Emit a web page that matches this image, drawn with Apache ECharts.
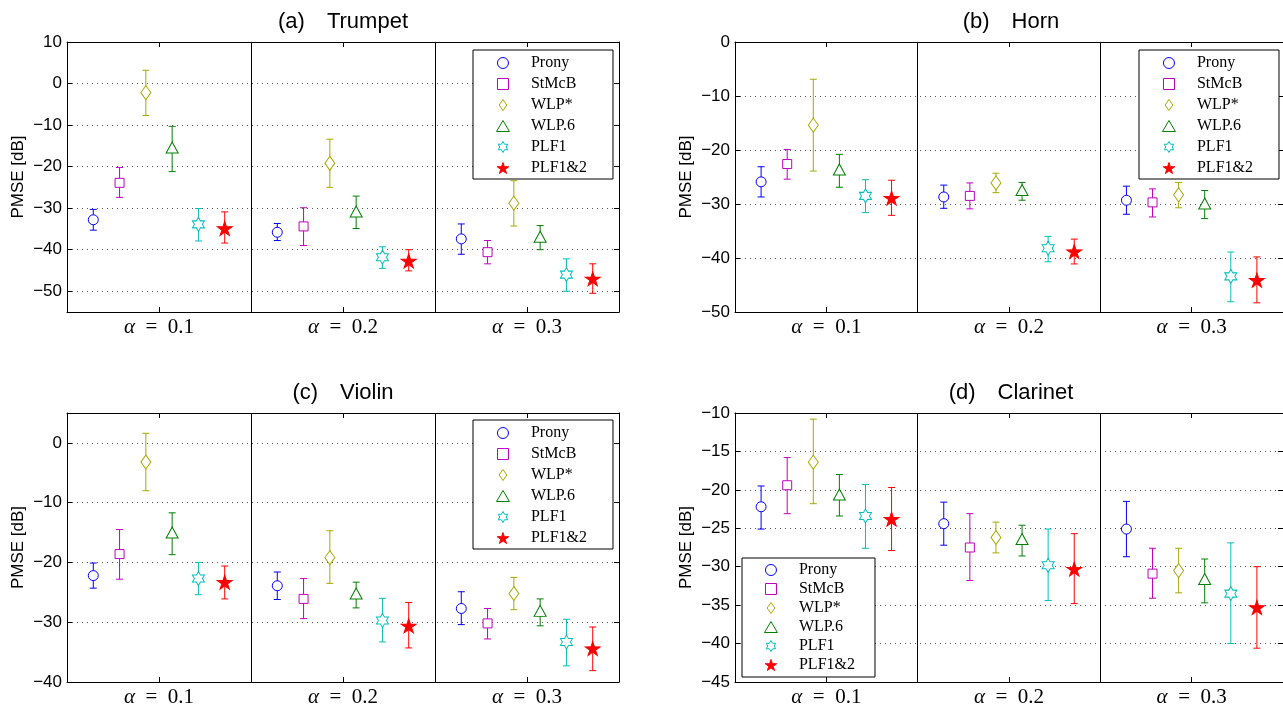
<!DOCTYPE html>
<html><head><meta charset="utf-8">
<script src="https://cdn.jsdelivr.net/npm/echarts@6/dist/echarts.min.js"></script>
<style>html,body{margin:0;padding:0;background:#fff}#c{width:1283px;height:708px}</style>
</head><body><div id="c"></div>
<script>
// ---------- data ----------
const methods = ['Prony', 'StMcB', 'WLP*', 'WLP.6', 'PLF1', 'PLF1&2'];
const alphaValues = ['0.1', '0.2', '0.3'];
const panelTitles = ['(a)\u2003Trumpet', '(b)\u2003Horn', '(c)\u2003Violin', '(d)\u2003Clarinet'];
const yAxisName = 'PMSE [dB]';

// rows = alpha groups (0.1, 0.2, 0.3); columns = methods
const trumpetMean  = [[-32.8, -23.9, -2.2, -15.4, -33.9, -34.9], [-35.8, -34.4, -19.2, -30.8, -41.8, -42.7], [-37.4, -40.6, -28.8, -36.9, -46.0, -47.0]];
const trumpetUpper = [[-30.3, -20.2, 3.2, -10.3, -30.1, -30.9], [-33.7, -29.9, -13.4, -27.1, -39.3, -40.0], [-33.8, -37.8, -23.4, -34.2, -42.2, -43.4]];
const trumpetLower = [[-35.3, -27.4, -7.7, -21.2, -37.9, -38.4], [-37.8, -39.0, -25.0, -34.9, -44.5, -45.1], [-41.1, -43.4, -34.3, -40.0, -50.0, -50.5]];

const hornMean  = [[-25.9, -22.6, -15.4, -23.6, -28.5, -28.9], [-28.7, -28.5, -26.1, -27.4, -38.2, -38.8], [-29.3, -29.7, -28.3, -29.9, -43.4, -44.1]];
const hornUpper = [[-23.1, -19.9, -6.9, -20.8, -25.5, -25.6], [-26.5, -26.1, -24.3, -26.0, -36.0, -36.5], [-26.7, -27.2, -26.0, -27.5, -38.9, -39.8]];
const hornLower = [[-28.7, -25.4, -23.9, -26.9, -31.6, -32.1], [-30.8, -30.9, -27.9, -29.3, -40.7, -41.1], [-31.9, -32.4, -30.7, -32.7, -48.1, -48.3]];

const violinMean  = [[-22.2, -18.6, -3.2, -15.0, -22.7, -23.3], [-23.9, -26.1, -19.2, -25.2, -29.7, -30.6], [-27.7, -30.2, -25.2, -28.1, -33.3, -34.4]];
const violinUpper = [[-20.1, -14.5, 1.6, -11.7, -20.0, -20.6], [-21.6, -22.7, -14.7, -23.3, -26.0, -26.7], [-24.9, -27.7, -22.5, -26.1, -29.5, -30.8]];
const violinLower = [[-24.3, -22.8, -8.0, -18.7, -25.4, -26.1], [-26.2, -29.4, -23.5, -27.6, -33.3, -34.3], [-30.4, -32.8, -27.9, -30.6, -37.3, -38.1]];

const clarinetMean  = [[-22.2, -19.4, -16.4, -20.6, -23.4, -23.8], [-24.4, -27.5, -26.2, -26.4, -29.8, -30.3], [-25.1, -30.9, -30.5, -31.6, -33.5, -35.3]];
const clarinetUpper = [[-19.5, -15.8, -10.8, -18.0, -19.3, -19.7], [-21.6, -23.1, -24.2, -24.6, -25.1, -25.7], [-21.5, -27.6, -27.6, -29.0, -26.9, -30.0]];
const clarinetLower = [[-25.1, -23.1, -21.8, -23.4, -27.6, -27.9], [-27.2, -31.8, -28.2, -28.6, -34.4, -34.8], [-28.7, -34.1, -33.4, -34.7, -40.0, -40.6]];

const yTicksA = [-50, -40, -30, -20, -10, 0, 10];
const yTicksB = [-50, -40, -30, -20, -10, 0];
const yTicksC = [-40, -30, -20, -10, 0];
const yTicksD = [-45, -40, -35, -30, -25, -20, -15, -10];
const yRangeA = [-55, 10];
const yRangeB = [-50, 0];
const yRangeC = [-40, 5];
const yRangeD = [-45, -10];
const groupCenters = [0.5, 1.5, 2.5];
const groupSeparators = [1, 2];

// ---------- styling ----------
const colors = ['#0000ff', '#bf00bf', '#a8a800', '#008000', '#00bfbf', '#ff0000'];
const hexPath = 'path://M0,-1000L289,-500L866,-500L577,0L866,500L289,500L0,1000L-289,500L-866,500L-577,0L-866,-500L-289,-500Z';
const starPath = 'path://M0,-1000L225,-309L951,-309L363,118L588,809L0,382L-588,809L-363,118L-951,-309L-225,-309Z';
const symbols = ['circle', 'path://M0,0L10,0L10,10L0,10Z', 'path://M0,-10L7,0L0,10L-7,0Z', 'path://M0,0L10,17L-10,17Z', hexPath, starPath];
const symbolSizes = [10, [9, 9], [10, 14], [12, 11], [12, 14], [15, 14]];
const fills = ['#fff', '#fff', '#fff', '#fff', '#fff', '#ff0000'];

const panels = [
  { mean: trumpetMean, upper: trumpetUpper, lower: trumpetLower, range: yRangeA, ticks: yTicksA,
    grid: { left: 67, top: 42, width: 552, height: 270 }, titlePos: { left: 343, top: 11 },
    legend: { left: 473, top: 50, padding: [5, 26, 3, 23], itemWidth: 46, itemGap: 5 } },
  { mean: hornMean, upper: hornUpper, lower: hornLower, range: yRangeB, ticks: yTicksB,
    grid: { left: 735, top: 42, width: 552, height: 270 }, titlePos: { left: 1011, top: 11 },
    legend: { left: 1139, top: 50, padding: [5, 26, 3, 23], itemWidth: 46, itemGap: 5 } },
  { mean: violinMean, upper: violinUpper, lower: violinLower, range: yRangeC, ticks: yTicksC,
    grid: { left: 67, top: 413, width: 552, height: 270 }, titlePos: { left: 343, top: 382 },
    legend: { left: 473, top: 420, padding: [5, 26, 3, 23], itemWidth: 46, itemGap: 5 } },
  { mean: clarinetMean, upper: clarinetUpper, lower: clarinetLower, range: yRangeD, ticks: yTicksD,
    grid: { left: 735, top: 413, width: 552, height: 270 }, titlePos: { left: 1011, top: 382 },
    legend: { left: 742, top: 558, padding: [4, 20, 4, 22], itemWidth: 46, itemGap: 3 } }
];

const sans = 'Liberation Sans, Arial, sans-serif';
const serif = 'Liberation Serif, Times New Roman, serif';
const minus = v => String(v).replace('-', '\u2212');
const xOf = (g, j) => groupCenters[g] + (j - 2.5) / 7;

const option = { animation: false, backgroundColor: '#fff', title: [], grid: [], xAxis: [], yAxis: [], legend: [], series: [] };

panels.forEach((p, pi) => {
  option.title.push({ text: panelTitles[pi], left: p.titlePos.left, top: p.titlePos.top, textAlign: 'center', padding: 0,
    textStyle: { fontFamily: sans, fontSize: 22, fontWeight: 'normal', color: '#000' } });
  option.grid.push(Object.assign({ containLabel: false }, p.grid));
  const frameLine = { show: true, onZero: false, lineStyle: { color: '#000', width: 1 } };
  option.xAxis.push({ type: 'value', gridIndex: pi, position: 'bottom', min: 0, max: 3,
    axisLine: frameLine,
    axisTick: { show: true, inside: true, length: 5, customValues: groupCenters, lineStyle: { color: '#000' } },
    axisLabel: { customValues: groupCenters, margin: 5, color: '#000', fontFamily: serif, fontSize: 21,
      formatter: v => '{a|\u03b1}\u2002=\u2002' + alphaValues[Math.round(v - 0.5)],
      rich: { a: { fontFamily: serif, fontStyle: 'italic', fontSize: 21, color: '#000' } } },
    splitLine: { show: false } });
  option.xAxis.push({ type: 'value', gridIndex: pi, position: 'top', min: 0, max: 3,
    axisLine: frameLine,
    axisTick: { show: true, inside: true, length: 5, customValues: groupCenters, lineStyle: { color: '#000' } },
    axisLabel: { show: false }, splitLine: { show: false } });
  option.yAxis.push({ type: 'value', gridIndex: pi, position: 'left', min: p.range[0], max: p.range[1],
    name: yAxisName, nameLocation: 'middle', nameGap: 40, nameRotate: 90,
    nameTextStyle: { fontFamily: sans, fontSize: 17, color: '#000' },
    axisLine: frameLine,
    axisTick: { show: true, inside: true, length: 5, customValues: p.ticks, lineStyle: { color: '#000' } },
    axisLabel: { customValues: p.ticks, margin: 5, color: '#000', fontFamily: sans, fontSize: 17, formatter: minus },
    splitLine: { show: true, lineStyle: { color: '#555', width: 1, type: [1, 4] } } });
  option.yAxis.push({ type: 'value', gridIndex: pi, position: 'right', min: p.range[0], max: p.range[1],
    axisLine: frameLine,
    axisTick: { show: true, inside: true, length: 5, customValues: p.ticks, lineStyle: { color: '#000' } },
    axisLabel: { show: false }, splitLine: { show: false } });

  option.legend.push(Object.assign({ orient: 'vertical', data: methods, itemHeight: 11,
    backgroundColor: '#fff', borderColor: '#000', borderWidth: 1, borderRadius: 0, selectedMode: false,
    itemStyle: { borderWidth: 1 },
    textStyle: { fontFamily: serif, fontSize: 16, color: '#000' } }, p.legend));

  methods.forEach((m, j) => {
    const errData = [], ptData = [];
    for (let g = 0; g < 3; g++) {
      errData.push([xOf(g, j), p.lower[g][j], p.upper[g][j]]);
      ptData.push([xOf(g, j), p.mean[g][j]]);
    }
    const col = colors[j];
    const errSeries = {
      type: 'custom', name: 'err ' + m, xAxisIndex: pi * 2, yAxisIndex: pi * 2, z: 2, silent: true,
      encode: { x: 0, y: [1, 2] }, data: errData,
      renderItem: (params, api) => {
        const x = api.value(0);
        const a = api.coord([x, api.value(1)]);
        const b = api.coord([x, api.value(2)]);
        const hw = 3.5;
        const st = { stroke: col, lineWidth: 1 };
        return { type: 'group', children: [
          { type: 'line', shape: { x1: a[0], y1: a[1], x2: b[0], y2: b[1] }, style: st },
          { type: 'line', shape: { x1: a[0] - hw, y1: a[1], x2: a[0] + hw, y2: a[1] }, style: st },
          { type: 'line', shape: { x1: b[0] - hw, y1: b[1], x2: b[0] + hw, y2: b[1] }, style: st }
        ] };
      }
    };
    if (j === 0) {
      errSeries.markLine = { silent: true, symbol: 'none', label: { show: false },
        lineStyle: { color: '#000', width: 1, type: 'solid' },
        data: groupSeparators.map(v => ({ xAxis: v })) };
    }
    option.series.push(errSeries);
    option.series.push({
      type: 'scatter', name: m, xAxisIndex: pi * 2, yAxisIndex: pi * 2, z: 3, silent: true,
      symbol: symbols[j], symbolSize: symbolSizes[j], data: ptData,
      itemStyle: { color: fills[j], borderColor: col, borderWidth: 1, opacity: 1 }
    });
  });
});

const chart = echarts.init(document.getElementById('c'), null, { renderer: 'canvas' });
chart.setOption(option);
</script>
</body></html>
